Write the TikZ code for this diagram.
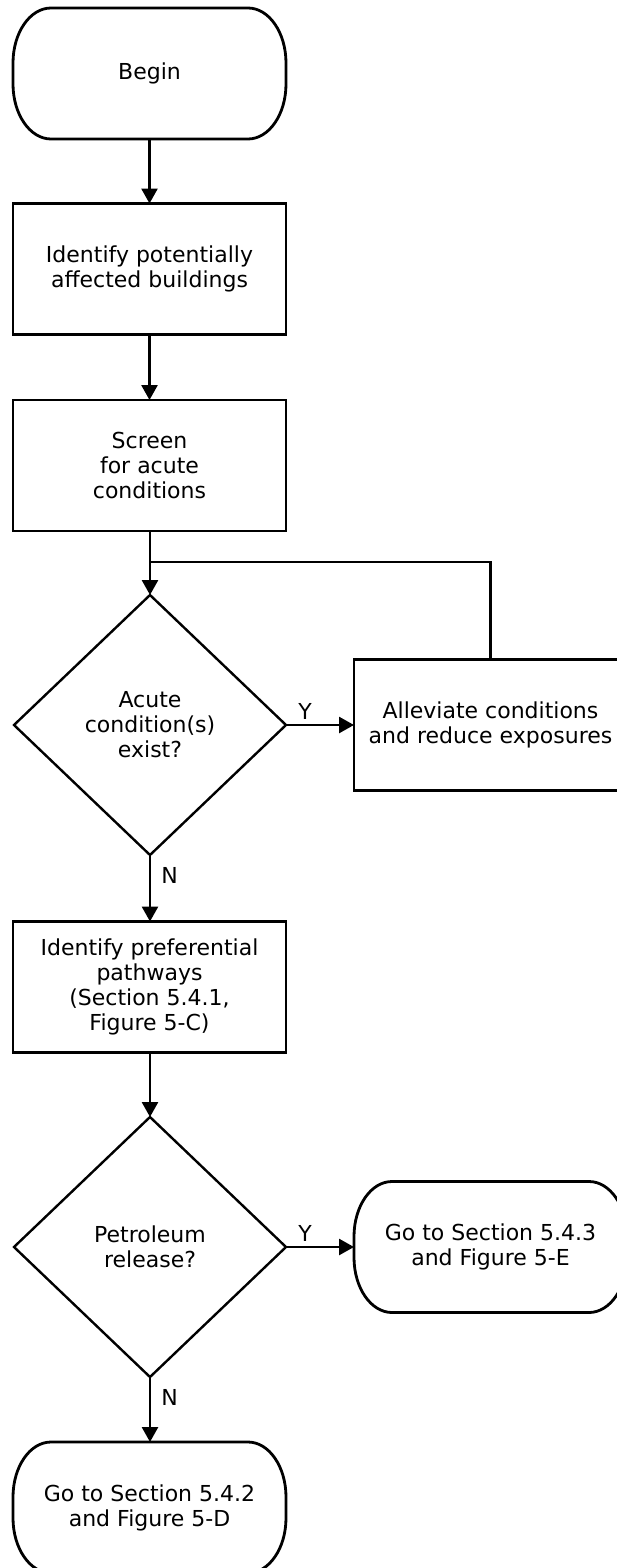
\documentclass[tikz,border=0pt]{standalone}
\usepackage{fontspec}
\setmainfont{DejaVu Sans}
\usetikzlibrary{shapes.geometric,arrows.meta}
\tikzset{
  every node/.style={font=\fontsize{22}{25}\selectfont, align=center, inner sep=0pt},
  boxline/.style={line width=2.8pt, line join=miter},
  procbox/.style={rectangle, draw, boxline, minimum width=273pt, minimum height=131pt, outer sep=0pt},
  termbox/.style={rectangle, minimum width=273pt, minimum height=131pt, outer sep=0pt},
  decbox/.style={diamond, draw, line width=2.4pt, minimum width=272pt, minimum height=260pt, aspect=1.046, outer sep=0pt},
  conn/.style={line width=2.7pt},
  arr/.style={conn, -{Triangle[length=15pt,width=16pt]}},
  lbl/.style={font=\fontsize{22}{25}\selectfont}
}
\newcommand{\stadiumoutline}[1]{%
  \draw[boxline] ([xshift=38pt]#1.north west) -- ([xshift=-38pt]#1.north east)
    arc[start angle=90, end angle=0, x radius=38pt, y radius=55pt]
    -- ([yshift=55pt]#1.south east)
    arc[start angle=0, end angle=-90, x radius=38pt, y radius=55pt]
    -- ([xshift=38pt]#1.south west)
    arc[start angle=270, end angle=180, x radius=38pt, y radius=55pt]
    -- ([yshift=-55pt]#1.north west)
    arc[start angle=180, end angle=90, x radius=38pt, y radius=55pt] -- cycle;}
\begin{document}
\begin{tikzpicture}[x=1pt,y=1pt]
\useasboundingbox (0,0) rectangle (617,-1568);

\node[termbox] (begin) at (149.5,-73.5) {Begin};
\stadiumoutline{begin}
\node[procbox] (ident) at (149.5,-269) {Identify potentially\\affected buildings};
\node[procbox] (screen) at (149.5,-465.5) {Screen\\for acute\\conditions};
\node[decbox] (acute) at (150,-725) {Acute\\condition(s)\\exist?};
\node[procbox] (allev) at (490.5,-725) {Alleviate conditions\\and reduce exposures};
\node[procbox] (pref) at (149.5,-987) {Identify preferential\\pathways\\(Section 5.4.1,\\Figure 5-C)};
\node[decbox] (petro) at (150,-1247) {Petroleum\\release?};
\node[termbox] (go543) at (490.5,-1247) {Go to Section 5.4.3\\and Figure 5-E};
\stadiumoutline{go543}
\node[termbox] (go542) at (149.5,-1507.5) {Go to Section 5.4.2\\and Figure 5-D};
\stadiumoutline{go542}

\coordinate (join) at (150,-562);

\draw[arr] (begin) -- (ident);
\draw[arr] (ident) -- (screen);
\draw[arr] (screen.south -| acute.north) -- (acute.north);
\draw[conn] (allev.north) |- (join);
\draw[arr] (acute.east) -- (allev.west) node[lbl, pos=0.28, anchor=base, yshift=6pt] {Y};
\draw[arr] (acute.south) -- (pref.north -| acute.south) node[lbl, pos=0.31, anchor=west, xshift=10pt] {N};
\draw[arr] (pref.south -| petro.north) -- (petro.north);
\draw[arr] (petro.east) -- (go543.west) node[lbl, pos=0.28, anchor=base, yshift=6pt] {Y};
\draw[arr] (petro.south) -- (go542.north -| petro.south) node[lbl, pos=0.31, anchor=west, xshift=10pt] {N};
\end{tikzpicture}
\end{document}
